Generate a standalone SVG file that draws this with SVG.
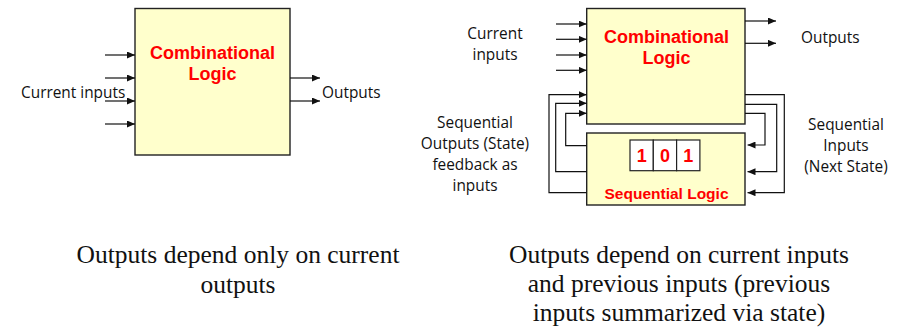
<svg xmlns="http://www.w3.org/2000/svg" width="907" height="328" viewBox="0 0 907 328">
<style>
.box{fill:#FFFFCC;stroke:#222;stroke-width:1.4}
.cell{fill:#fff;stroke:#222;stroke-width:1.2}
.red{font-family:"Liberation Sans",Arial,sans-serif;font-weight:bold;fill:#FF0000;text-anchor:middle}
.lbl{font-family:"Open Sans","Liberation Sans",sans-serif;font-size:15.4px;fill:#111}
.cap{font-family:"Liberation Serif","Times New Roman",serif;font-size:25.5px;fill:#111;text-anchor:middle}
.wire{fill:none;stroke:#111;stroke-width:1.2;marker-end:url(#arr)}
</style>
<defs>
<marker id="arr" markerUnits="userSpaceOnUse" markerWidth="8" markerHeight="7" refX="8" refY="3.5" orient="auto">
<path d="M0,0 L8,3.5 L0,7 z" fill="#111"/>
</marker>
</defs>
<g id="comb-left">
<rect class="box" x="135" y="8.5" width="155" height="146.5"/>
<text class="red" font-size="18" x="212.5" y="58.5">Combinational</text>
<text class="red" font-size="18" x="212.5" y="79.5">Logic</text>
</g>
<g id="comb-right">
<rect class="box" x="586.7" y="8.5" width="158.3" height="115.5"/>
<text class="red" font-size="18" x="666.5" y="42.7">Combinational</text>
<text class="red" font-size="18" x="666.5" y="64">Logic</text>
</g>
<g id="seq-right">
<rect class="box" x="586.7" y="133" width="158.3" height="72"/>
<rect class="cell" x="630" y="140" width="23.3" height="30.7"/>
<rect class="cell" x="653.3" y="140" width="23.3" height="30.7"/>
<rect class="cell" x="676.6" y="140" width="23.3" height="30.7"/>
<text class="red" font-size="18" x="641.7" y="161.7">1</text>
<text class="red" font-size="18" x="665" y="161.7">0</text>
<text class="red" font-size="18" x="688.3" y="161.7">1</text>
<text class="red" font-size="15.5" x="666.5" y="199">Sequential Logic</text>
</g>
<g id="connectors">
<path class="wire" d="M105,55 H135"/>
<path class="wire" d="M105,78 H135"/>
<path class="wire" d="M105,101 H135"/>
<path class="wire" d="M105,124 H135"/>
<path class="wire" d="M290,78 H320"/>
<path class="wire" d="M290,101 H320"/>
<path class="wire" d="M556,24 H586.7"/>
<path class="wire" d="M556,39.3 H586.7"/>
<path class="wire" d="M556,55 H586.7"/>
<path class="wire" d="M556,70.3 H586.7"/>
<path class="wire" d="M745,21 H776"/>
<path class="wire" d="M745,43.3 H776"/>
<path class="wire" d="M586.7,145.7 H565.7 V113.3 H586.7"/>
<path class="wire" d="M586.7,171.7 H555.7 V103.3 H586.7"/>
<path class="wire" d="M586.7,192.7 H549 V94.7 H586.7"/>
<path class="wire" d="M745,94.7 H784.3 V192.7 H747.5"/>
<path class="wire" d="M745,104.3 H776.7 V171.7 H747.5"/>
<path class="wire" d="M745,113.3 H765 V145 H747.5"/>
</g>
<g id="labels">
<text class="lbl" x="21" y="97.5">Current inputs</text>
<text class="lbl" x="322" y="97.5">Outputs</text>
<text class="lbl" x="495" y="39.3" text-anchor="middle">Current</text>
<text class="lbl" x="495" y="60" text-anchor="middle">inputs</text>
<text class="lbl" x="801" y="43">Outputs</text>
<text class="lbl" x="475" y="128" text-anchor="middle">Sequential</text>
<text class="lbl" x="475" y="149" text-anchor="middle">Outputs (State)</text>
<text class="lbl" x="475" y="170" text-anchor="middle">feedback as</text>
<text class="lbl" x="475" y="191" text-anchor="middle">inputs</text>
<text class="lbl" x="846" y="130" text-anchor="middle">Sequential</text>
<text class="lbl" x="846" y="151" text-anchor="middle">Inputs</text>
<text class="lbl" x="846" y="172" text-anchor="middle">(Next State)</text>
<text class="cap" x="238" y="262.5">Outputs depend only on current</text>
<text class="cap" x="238" y="292.5">outputs</text>
<text class="cap" x="679" y="262.5">Outputs depend on current inputs</text>
<text class="cap" x="679" y="292">and previous inputs (previous</text>
<text class="cap" x="679" y="321">inputs summarized via state)</text>
</g>
</svg>
